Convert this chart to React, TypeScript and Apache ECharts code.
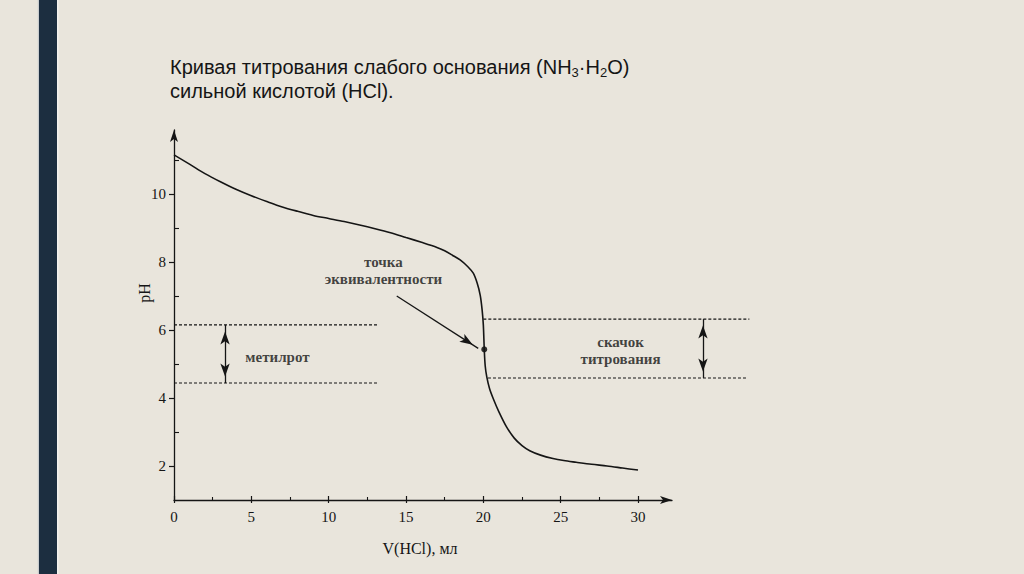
import React, { useEffect, useRef } from 'react';
import * as echarts from 'echarts';

// ---- data ----
const volume = [0, 1, 2, 3, 4, 5, 6, 7, 8, 9, 10, 11, 12, 13, 14, 15, 16, 17, 17.5, 18, 18.5, 19, 19.35, 19.6, 19.8, 19.92, 20.0, 20.06, 20.12, 20.22, 20.4, 20.65, 21.0, 21.5, 22.0, 22.5, 23.0, 23.7, 24.5, 25.2, 26, 27, 28, 29, 30];
const pH = [11.15, 10.88, 10.6, 10.36, 10.14, 9.95, 9.78, 9.62, 9.49, 9.37, 9.28, 9.19, 9.09, 8.98, 8.86, 8.72, 8.58, 8.43, 8.33, 8.2, 8.06, 7.86, 7.67, 7.38, 7.02, 6.6, 6.15, 5.43, 4.95, 4.63, 4.28, 3.97, 3.6, 3.15, 2.82, 2.6, 2.45, 2.32, 2.22, 2.16, 2.11, 2.05, 2.0, 1.94, 1.88];

const xMajorTicks = [0, 5, 10, 15, 20, 25, 30];
const xMinorTicks = [2.5, 7.5, 12.5, 17.5, 22.5, 27.5];
const yMajorTicks = [2, 4, 6, 8, 10];
const yMinorTicks = [3, 5, 7, 9, 11];

const equivalencePoint = [20.06, 5.43];

const methylRedRange = [4.44, 6.15];
const methylRedSpan = [0, 13.2];
const methylRedArrowX = 3.3;

const jumpRange = [4.59, 6.32];
const jumpUpperSpan = [20.0, 37.2];
const jumpLowerSpan = [20.3, 37.0];
const jumpArrowX = 34.2;

const pointerFrom = [14.4, 7.0];
const pointerTo = [19.67, 5.46];

const noteTexts = ['метилрот', 'точка\nэквивалентности', 'скачок\nтитрования'];
const noteX = [6.69, 13.54, 28.87];
const notePH = [5.21, 7.75, 5.4];

const titleText = 'Кривая титрования слабого основания (NH{sub|3}·H{sub|2}O)\nсильной кислотой (HCl).';
const xName = 'V(HCl), мл';
const yName = 'pH';

// ---- layout ----
const X_PX_PER_UNIT = 464 / 30;
const Y_PX_PER_UNIT = 34;
const GRID_LEFT = 174;
const GRID_TOP = 130;
const GRID_HEIGHT = 370;
const AXIS_WIDTH = 498;
const WIDE_WIDTH = 586;
const Y_MIN = 1;
const Y_MAX = Y_MIN + GRID_HEIGHT / Y_PX_PER_UNIT;

const INK = '#151515';
const SERIF = '"Liberation Serif", "Times New Roman", serif';
const SANS = '"Liberation Sans", Arial, sans-serif';

export default function App() {
  const ref = useRef<HTMLDivElement>(null);

  useEffect(() => {
    if (!ref.current) return;
    const chart = echarts.init(ref.current, null, { renderer: 'svg' });

    const curve = volume.map((v, i) => [v, pH[i]]);
    const dashed = { color: INK, width: 1.1, type: [3, 2] as number[] };

    const hiddenAxis = { show: false, type: 'value' as const };

    const option: any = {
      animation: false,
      backgroundColor: 'transparent',
      grid: [
        { left: GRID_LEFT, top: GRID_TOP, width: AXIS_WIDTH, height: GRID_HEIGHT, outerBoundsMode: 'none', containLabel: false },
        { left: GRID_LEFT, top: GRID_TOP, width: WIDE_WIDTH, height: GRID_HEIGHT, outerBoundsMode: 'none', containLabel: false },
      ],
      xAxis: [
        {
          gridIndex: 0, type: 'value', position: 'bottom', min: 0, max: AXIS_WIDTH / X_PX_PER_UNIT,
          axisLine: { show: true, onZero: false, symbol: ['none', 'arrow'], symbolSize: [6, 12], lineStyle: { color: INK, width: 1.3 } },
          axisTick: { show: true, inside: true, length: 4, customValues: xMajorTicks, lineStyle: { color: INK, width: 1.2 } },
          axisLabel: { show: true, customValues: xMajorTicks, margin: 9, color: INK, fontFamily: SERIF, fontSize: 15 },
          splitLine: { show: false },
          name: xName, nameLocation: 'middle', nameGap: 40, nameMoveOverlap: false,
          nameTextStyle: { color: INK, fontFamily: SERIF, fontSize: 16, padding: [0, 6, 0, 0] },
        },
        {
          gridIndex: 0, type: 'value', position: 'bottom', min: 0, max: AXIS_WIDTH / X_PX_PER_UNIT,
          axisLine: { show: false, onZero: false },
          axisTick: { show: true, inside: false, length: 3, customValues: xMajorTicks, lineStyle: { color: INK, width: 1.2 } },
          axisLabel: { show: false }, splitLine: { show: false },
        },
        {
          gridIndex: 0, type: 'value', position: 'bottom', min: 0, max: AXIS_WIDTH / X_PX_PER_UNIT,
          axisLine: { show: false, onZero: false },
          axisTick: { show: true, inside: true, length: 3, customValues: xMinorTicks, lineStyle: { color: INK, width: 1.1 } },
          axisLabel: { show: false }, splitLine: { show: false },
        },
        { ...hiddenAxis, gridIndex: 1, min: 0, max: WIDE_WIDTH / X_PX_PER_UNIT },
      ],
      yAxis: [
        {
          gridIndex: 0, type: 'value', position: 'left', min: Y_MIN, max: Y_MAX,
          axisLine: { show: true, onZero: false, symbol: ['none', 'arrow'], symbolSize: [6, 12], lineStyle: { color: INK, width: 1.3 } },
          axisTick: { show: true, inside: false, length: 5, customValues: yMajorTicks, lineStyle: { color: INK, width: 1.2 } },
          axisLabel: { show: true, customValues: yMajorTicks, margin: 8, color: INK, fontFamily: SERIF, fontSize: 15 },
          splitLine: { show: false },
          name: yName, nameLocation: 'middle', nameGap: 22, nameRotate: 90, nameMoveOverlap: false,
          nameTextStyle: { color: INK, fontFamily: SERIF, fontSize: 16, padding: [0, 0, 0, 44] },
        },
        {
          gridIndex: 0, type: 'value', position: 'left', min: Y_MIN, max: Y_MAX,
          axisLine: { show: false, onZero: false },
          axisTick: { show: true, inside: true, length: 5, customValues: yMinorTicks, lineStyle: { color: INK, width: 1.1 } },
          axisLabel: { show: false }, splitLine: { show: false },
        },
        { ...hiddenAxis, gridIndex: 1, min: Y_MIN, max: Y_MAX },
      ],
      series: [
        {
          name: 'curve', type: 'line', xAxisIndex: 0, yAxisIndex: 0, data: curve,
          showSymbol: false, smooth: 0.3, clip: false, silent: true,
          lineStyle: { color: INK, width: 1.6 },
        },
        {
          name: 'equivalence', type: 'scatter', xAxisIndex: 0, yAxisIndex: 0, data: [equivalencePoint],
          symbol: 'circle', symbolSize: 6, itemStyle: { color: '#000' }, silent: true,
        },
        {
          name: 'mr-high', type: 'line', xAxisIndex: 3, yAxisIndex: 2,
          data: methylRedSpan.map((x) => [x, methylRedRange[1]]),
          showSymbol: false, silent: true, lineStyle: dashed,
          markLine: {
            silent: true, animation: false,
            symbol: ['arrow', 'arrow'], symbolSize: [7, 13],
            symbolOffset: [[0, '50%'], [0, '50%']],
            label: { show: false }, emphasis: { disabled: true },
            lineStyle: { color: INK, width: 1.3, type: 'solid' },
            data: [
              [{ coord: [methylRedArrowX, methylRedRange[1]] }, { coord: [methylRedArrowX, methylRedRange[0]] }],
              [{ coord: [jumpArrowX, jumpRange[1]] }, { coord: [jumpArrowX, jumpRange[0]] }],
              [{ coord: pointerFrom, symbol: 'none' }, { coord: pointerTo, symbol: 'arrow' }],
            ],
          },
        },
        {
          name: 'mr-low', type: 'line', xAxisIndex: 3, yAxisIndex: 2,
          data: methylRedSpan.map((x) => [x, methylRedRange[0]]),
          showSymbol: false, silent: true, lineStyle: dashed,
        },
        {
          name: 'jump-high', type: 'line', xAxisIndex: 3, yAxisIndex: 2,
          data: jumpUpperSpan.map((x) => [x, jumpRange[1]]),
          showSymbol: false, silent: true, lineStyle: dashed,
        },
        {
          name: 'jump-low', type: 'line', xAxisIndex: 3, yAxisIndex: 2,
          data: jumpLowerSpan.map((x) => [x, jumpRange[0]]),
          showSymbol: false, silent: true, lineStyle: dashed,
        },
        {
          name: 'notes', type: 'scatter', xAxisIndex: 3, yAxisIndex: 2,
          data: noteTexts.map((t, i) => ({ name: t, value: [noteX[i], notePH[i]] })),
          symbolSize: 1, itemStyle: { color: 'rgba(0,0,0,0)' }, silent: true,
          label: {
            show: true, position: 'inside', formatter: '{b}', color: INK,
            fontFamily: SERIF, fontSize: 15, fontWeight: 'bold', lineHeight: 17, align: 'center',
          },
        },
      ],
      graphic: [
        { type: 'rect', silent: true, shape: { x: 39, y: 0, width: 18, height: 574 }, style: { fill: '#1c2e40' } },
        { type: 'rect', silent: true, shape: { x: 57, y: 0, width: 1.5, height: 574 }, style: { fill: '#f3f2ee' } },
        { type: 'rect', silent: true, shape: { x: 37.8, y: 0, width: 1.2, height: 574 }, style: { fill: '#c9ccce' } },
        {
          type: 'text', silent: true, x: 170, y: 55,
          style: {
            text: titleText, fill: INK, fontFamily: SANS, fontSize: 20, lineHeight: 24,
            verticalAlign: 'top', align: 'left',
            rich: { sub: { fontSize: 13, fontFamily: SANS, fill: INK, verticalAlign: 'bottom', lineHeight: 11 } },
          },
        },
      ],
    };

    chart.setOption(option);
    return () => chart.dispose();
  }, []);

  return (
    <div
      ref={ref}
      style={{ position: 'absolute', left: 0, top: 0, width: 1024, height: 574, background: '#e9e5dc' }}
    />
  );
}
